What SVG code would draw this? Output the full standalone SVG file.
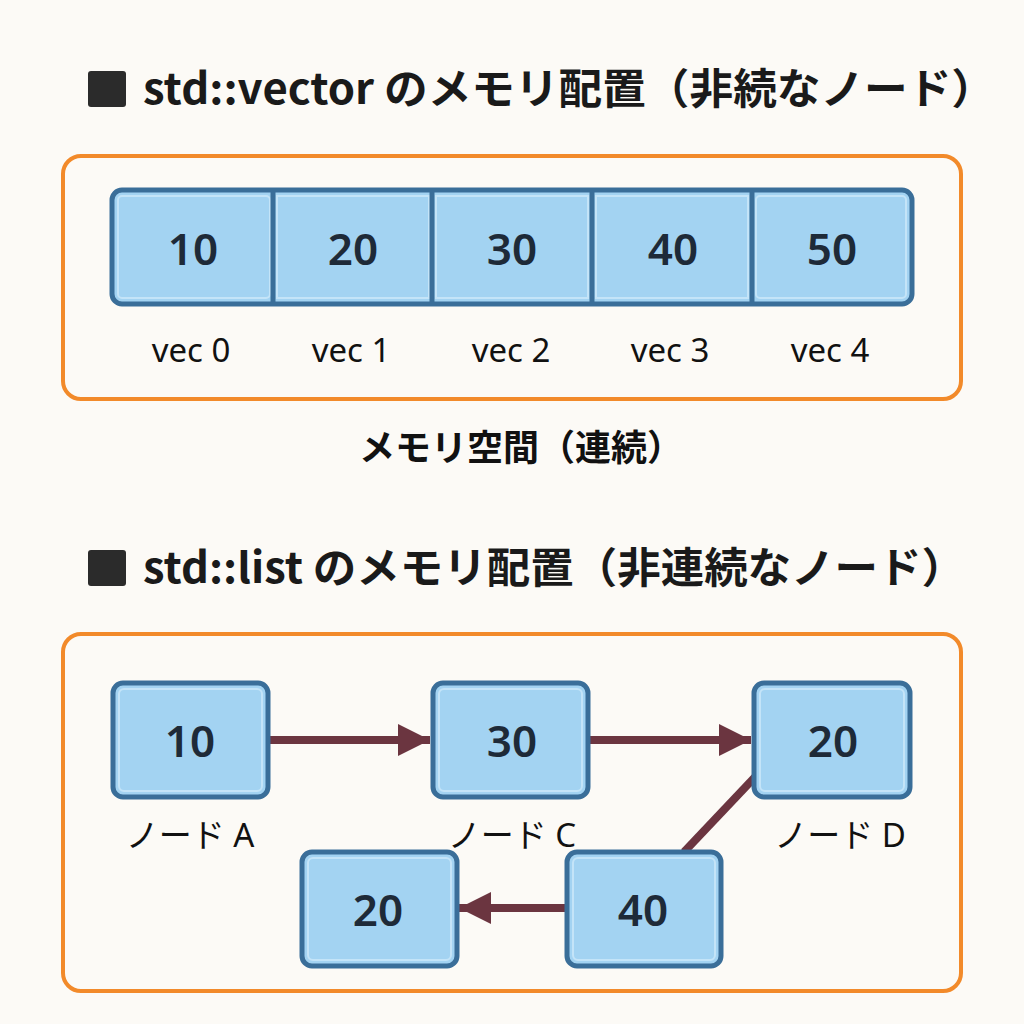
<svg xmlns="http://www.w3.org/2000/svg" width="1024" height="1024" viewBox="0 0 1024 1024">
<defs>
<style>
.title{font-family:"Noto Sans CJK JP","Noto Sans",sans-serif;font-weight:bold;font-size:42px;fill:#1a1a1a}
.frame{fill:none;stroke:#F28A2A;stroke-width:4}
.cell{fill:#A3D3F2;stroke:#3A6E99;stroke-width:5}
.inner{fill:none;stroke:#C4E4F8;stroke-width:2}
.num{font-family:"Noto Sans","Noto Sans CJK JP",sans-serif;font-weight:600;font-size:44px;fill:#1E2A38;text-anchor:middle}
.lbl{font-family:"Noto Sans","Noto Sans CJK JP",sans-serif;font-size:33px;fill:#111;text-anchor:middle}
.sub{font-family:"Noto Sans CJK JP","Noto Sans",sans-serif;font-weight:bold;font-size:36px;fill:#111;text-anchor:middle}
.conn{stroke:#6B3540;stroke-width:8;fill:none}
</style>
<marker id="ah" viewBox="0 0 10 10" refX="10" refY="5" markerWidth="4" markerHeight="4" orient="auto" markerUnits="strokeWidth">
<path d="M0,0 L10,5 L0,10 Z" fill="#6B3540"/>
</marker>
</defs>
<rect width="1024" height="1024" fill="#FCFAF6"/>

<g id="title1">
<rect x="88" y="71" width="38" height="36" rx="3" fill="#2b2b2b"/>
<text class="title" x="143" y="104" textLength="852" lengthAdjust="spacingAndGlyphs">std::vector のメモリ配置（非続なノード）</text>
</g>

<rect class="frame" x="63" y="156" width="898" height="243" rx="18"/>

<g id="vector">
<rect class="cell" x="112" y="190" width="800" height="114" rx="10"/>
<g id="vec0"><rect class="inner" x="118" y="196" width="152" height="102" rx="4"/><text class="num" x="193" y="265">10</text><text class="lbl" x="191" y="362">vec 0</text></g>
<g id="vec1"><rect class="inner" x="277" y="196" width="152" height="102"/><text class="num" x="353" y="265">20</text><text class="lbl" x="351" y="362">vec 1</text></g>
<g id="vec2"><rect class="inner" x="436" y="196" width="152" height="102"/><text class="num" x="512" y="265">30</text><text class="lbl" x="511" y="362">vec 2</text></g>
<g id="vec3"><rect class="inner" x="596" y="196" width="152" height="102"/><text class="num" x="673" y="265">40</text><text class="lbl" x="670" y="362">vec 3</text></g>
<g id="vec4"><rect class="inner" x="756" y="196" width="150" height="102" rx="4"/><text class="num" x="832" y="265">50</text><text class="lbl" x="830" y="362">vec 4</text></g>
<line x1="273" y1="190" x2="273" y2="304" stroke="#3A6E99" stroke-width="5"/>
<line x1="432" y1="190" x2="432" y2="304" stroke="#3A6E99" stroke-width="5"/>
<line x1="592" y1="190" x2="592" y2="304" stroke="#3A6E99" stroke-width="5"/>
<line x1="752" y1="190" x2="752" y2="304" stroke="#3A6E99" stroke-width="5"/>
</g>

<text class="sub" x="521" y="461">メモリ空間（連続）</text>

<g id="title2">
<rect x="88" y="550" width="38" height="36" rx="3" fill="#2b2b2b"/>
<text class="title" x="143" y="583" textLength="822" lengthAdjust="spacingAndGlyphs">std::list のメモリ配置（非連続なノード）</text>
</g>

<rect class="frame" x="63" y="634" width="898" height="357" rx="18"/>

<g id="connectors">
<line class="conn" x1="270" y1="740" x2="430" y2="740" marker-end="url(#ah)"/>
<line class="conn" x1="590" y1="740" x2="751" y2="740" marker-end="url(#ah)"/>
<line class="conn" x1="565" y1="908" x2="459" y2="908" marker-end="url(#ah)"/>
<line class="conn" x1="755" y1="777" x2="684" y2="852"/>
</g>

<g id="nodeA">
<rect class="cell" x="113" y="683" width="155" height="114" rx="10"/>
<rect class="inner" x="119" y="689" width="143" height="102" rx="5"/>
<text class="num" x="190" y="757">10</text>
<text class="lbl" x="190" y="847">ノード A</text>
</g>
<g id="nodeC">
<rect class="cell" x="433" y="683" width="155" height="114" rx="10"/>
<rect class="inner" x="439" y="689" width="143" height="102" rx="5"/>
<text class="num" x="512" y="757">30</text>
<text class="lbl" x="512" y="847">ノード C</text>
</g>
<g id="nodeD">
<rect class="cell" x="754" y="683" width="156" height="114" rx="10"/>
<rect class="inner" x="760" y="689" width="144" height="102" rx="5"/>
<text class="num" x="833" y="757">20</text>
<text class="lbl" x="840" y="847">ノード D</text>
</g>
<g id="node20">
<rect class="cell" x="302" y="852" width="155" height="114" rx="10"/>
<rect class="inner" x="308" y="858" width="143" height="102" rx="5"/>
<text class="num" x="378" y="926">20</text>
</g>
<g id="node40">
<rect class="cell" x="567" y="852" width="154" height="114" rx="10"/>
<rect class="inner" x="573" y="858" width="142" height="102" rx="5"/>
<text class="num" x="643" y="926">40</text>
</g>
</svg>
